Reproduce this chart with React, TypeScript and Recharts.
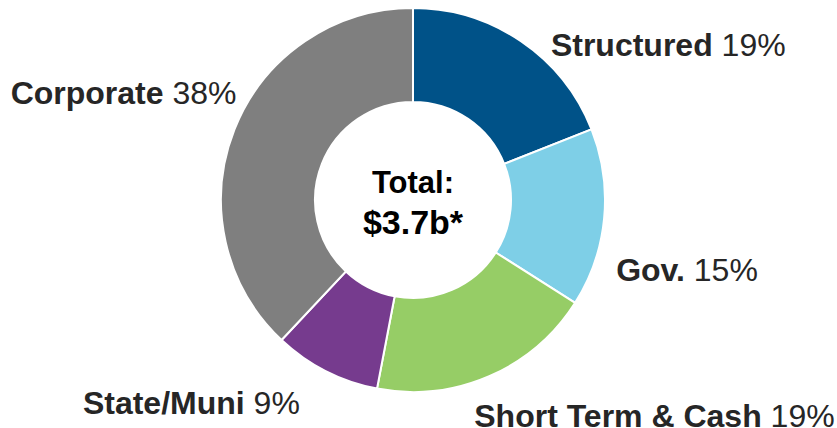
import React from "react";
import { PieChart, Pie, Cell } from "recharts";

const categories = ["Structured", "Gov.", "Short Term & Cash", "State/Muni", "Corporate"];
const shares = [19, 15, 19, 9, 38];
const totalLines = ["Total:", "$3.7b*"];

const colors = ["#005288", "#7ECFE7", "#96CD66", "#763B8E", "#7F7F7F"];
// label placement relative to the slice's outer mid point
const labelLayout = [
  { dx: 30, dy: 15, anchor: "start" },
  { dx: 12, dy: 63, anchor: "start" },
  { dx: -15, dy: 51, anchor: "start" },
  { dx: -26, dy: 43, anchor: "end" },
  { dx: 2, dy: -25, anchor: "end" },
];

const data = categories.map((name, i) => ({ name, value: shares[i] }));

const FONT = "'Liberation Sans', Arial, sans-serif";
const TEXT = "#262626";

const renderLabel = (props: any) => {
  const { cx, cy, midAngle, outerRadius, index } = props;
  const rad = (Math.PI / 180) * midAngle;
  const px = cx + outerRadius * Math.cos(rad);
  const py = cy - outerRadius * Math.sin(rad);
  const l = labelLayout[index];
  return (
    <g>
      <text
        x={px + l.dx}
        y={py + l.dy}
        textAnchor={l.anchor}
        fontFamily={FONT}
        fontSize={32}
        fill={TEXT}
      >
        <tspan fontWeight="bold">{categories[index]}</tspan>
        <tspan> {shares[index]}%</tspan>
      </text>
      {index === 0 && (
        <g>
          <text x={cx} y={cy - 7} textAnchor="middle" fontFamily={FONT} fontSize={31} fontWeight="bold" fill="#000">
            {totalLines[0]}
          </text>
          <text x={cx} y={cy + 34} textAnchor="middle" fontFamily={FONT} fontSize={34} fontWeight="bold" fill="#000">
            {totalLines[1]}
          </text>
        </g>
      )}
    </g>
  );
};

export default function App() {
  return (
    <div style={{ position: "absolute", left: 0, top: 0, width: 837, height: 428, background: "#fff" }}>
      <PieChart width={837} height={428} margin={{ top: 0, right: 0, bottom: 0, left: 0 }}>
        <Pie
          data={data}
          dataKey="value"
          nameKey="name"
          cx={413}
          cy={200}
          innerRadius={98}
          outerRadius={192}
          startAngle={90}
          endAngle={-270}
          stroke="#ffffff"
          strokeWidth={2}
          label={renderLabel}
          labelLine={false}
          isAnimationActive={false}
        >
          {data.map((d, i) => (
            <Cell key={d.name} fill={colors[i]} />
          ))}
        </Pie>
      </PieChart>
    </div>
  );
}
